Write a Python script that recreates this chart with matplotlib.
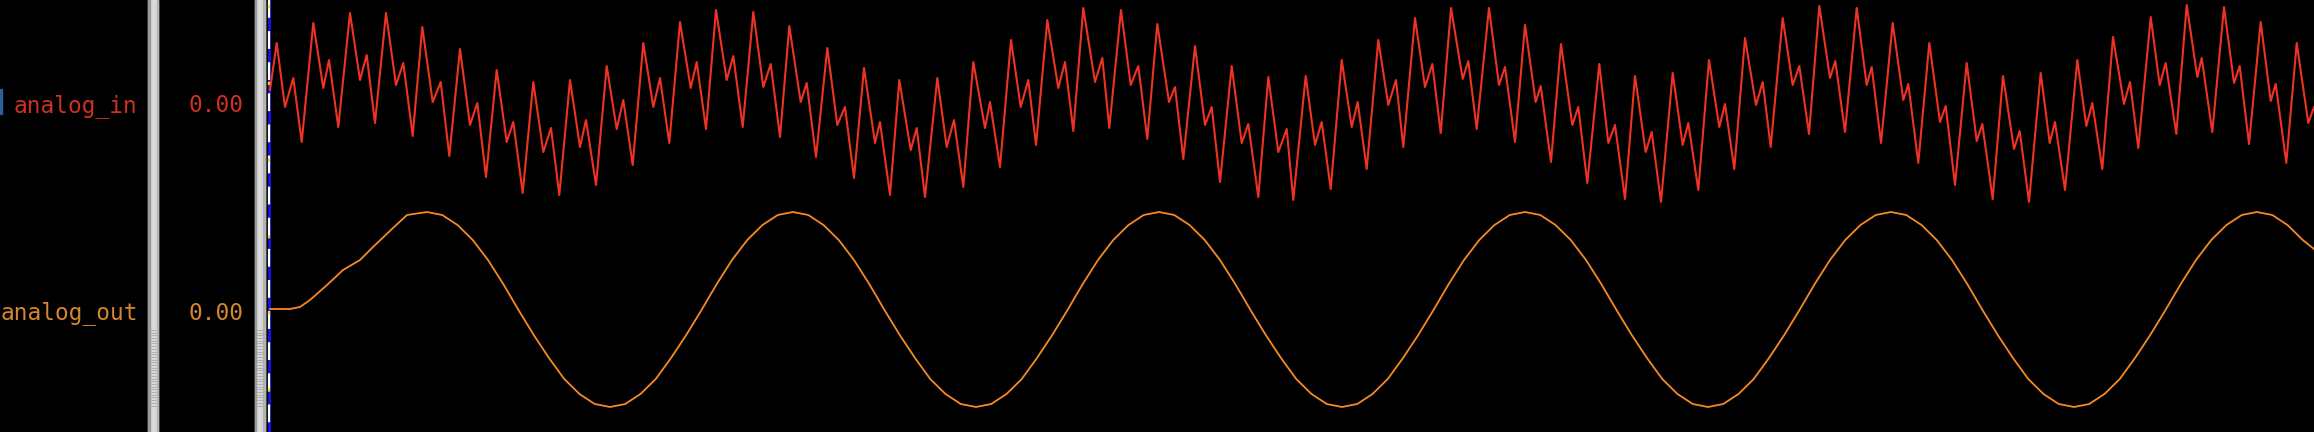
import numpy as np
import matplotlib.pyplot as plt
from matplotlib.patches import Rectangle

# analog_in: turning points (time in ns from the cursor, level in counts)
in_t = [0.0, 6.7, 15.0, 23.3, 31.7, 43.3, 53.3, 59.0, 68.3, 80.0, 90.0, 96.7,
        105.0, 116.0, 126.0, 133.3, 142.7, 152.3, 162.7, 170.7, 179.3, 190.0, 200.0, 207.3,
        216.0, 226.7, 236.7, 243.3, 252.7, 263.3, 273.3, 281.0, 289.3, 300.0, 310.0, 316.0,
        326.0, 336.7, 346.7, 353.3, 362.7, 373.3, 383.3, 390.0, 399.3, 410.0, 420.7, 426.7,
        436.0, 446.0, 456.7, 463.3, 472.7, 483.3, 493.3, 500.7, 510.0, 519.3, 530.7, 536.7,
        546.0, 557.3, 567.3, 575.0, 584.0, 594.0, 605.0, 610.0, 620.0, 629.3, 640.7, 646.7,
        655.0, 667.3, 676.7, 684.0, 693.3, 703.3, 715.0, 720.0, 730.0, 741.0, 750.7, 758.3,
        766.0, 777.3, 788.3, 795.0, 803.3, 813.3, 825.0, 832.3, 839.3, 851.0, 860.7, 868.3,
        877.3, 887.3, 899.0, 905.0, 913.3, 925.0, 935.0, 941.7, 950.0, 961.7, 971.7, 978.3,
        988.3, 998.3, 1008.3, 1016.7, 1023.3, 1035.7, 1045.0, 1051.7, 1060.7, 1071.7, 1081.7, 1087.7,
        1096.7, 1108.3, 1118.3, 1126.0, 1133.3, 1145.0, 1155.0, 1162.3, 1170.7, 1181.0, 1192.7, 1198.3,
        1206.7, 1219.0, 1229.0, 1235.0, 1245.0, 1255.0, 1265.7, 1270.7, 1281.0, 1291.0, 1302.3, 1308.3,
        1317.3, 1329.3, 1338.3, 1345.0, 1355.0, 1365.0, 1375.7, 1381.7, 1391.0, 1402.7, 1412.7, 1418.3,
        1428.3, 1439.0, 1449.3, 1455.0, 1464.3, 1475.0, 1486.0, 1492.7, 1500.7, 1512.7, 1522.7, 1529.3,
        1539.0, 1549.3, 1560.0, 1565.3, 1575.0, 1586.7, 1596.7, 1601.7, 1611.0, 1622.7, 1633.3, 1638.3,
        1648.3, 1659.3, 1670.0, 1675.7, 1685.0, 1696.7, 1706.7, 1712.3, 1722.7, 1733.0, 1744.0, 1749.7,
        1759.0, 1770.7, 1779.7, 1785.0, 1795.0, 1807.3, 1816.3, 1822.3, 1832.3, 1843.0, 1854.0, 1860.0,
        1868.3, 1880.7, 1889.7, 1895.7, 1906.3, 1916.7, 1927.3, 1931.7, 1942.3, 1954.0, 1964.0, 1969.7,
        1979.0, 1990.7, 2000.7, 2005.7, 2016.3, 2026.7, 2038.3, 2044.0]
in_v = [120, 167, 103, 132, 68, 187, 122, 150, 83, 197, 130, 155,
        87, 197, 125, 147, 74, 183, 108, 128, 54, 161, 85, 107,
        33, 140, 68, 88, 17, 128, 58, 82, 15, 130, 63, 90,
        25, 144, 81, 110, 45, 167, 103, 132, 67, 188, 122, 148,
        81, 200, 130, 154, 83, 198, 123, 146, 73, 184, 108, 127,
        53, 162, 85, 103, 32, 142, 67, 88, 15, 130, 60, 82,
        13, 132, 63, 90, 23, 148, 82, 108, 43, 170, 103, 130,
        65, 190, 122, 148, 79, 202, 128, 152, 82, 200, 125, 144,
        71, 186, 108, 123, 51, 164, 85, 103, 28, 144, 67, 86,
        13, 133, 58, 81, 10, 134, 65, 88, 21, 150, 83, 108,
        41, 170, 105, 130, 63, 192, 123, 146, 77, 202, 131, 149,
        81, 202, 125, 143, 68, 185, 108, 124, 48, 166, 85, 103,
        27, 146, 67, 85, 11, 134, 58, 78, 8, 137, 65, 87,
        20, 150, 83, 106, 41, 172, 105, 128, 63, 192, 125, 144,
        76, 204, 132, 149, 78, 202, 125, 143, 67, 187, 110, 126,
        47, 167, 88, 104, 25, 147, 69, 86, 11, 134, 61, 79,
        8, 137, 67, 88, 20, 150, 84, 107, 41, 173, 106, 128,
        62, 193, 125, 147, 76, 205, 133, 152, 78, 203, 127, 144,
        66, 188, 109, 126, 47, 167, 87, 103]

# analog_out: filter start-up, then samples every 15.25 ns
out_start_t = [0, 20, 30, 40, 57, 73, 90, 103, 123, 137]
out_start_v = [103, 103, 105, 112, 127, 142, 152, 165, 184, 197]
out_t0 = 157
out_dt = 15.25
out_v = [200, 197, 187, 172, 152, 128, 102, 77, 54, 33, 18, 8,
         5, 8, 18, 33, 54, 77, 102, 128, 152, 172, 187, 197,
         200, 197, 187, 172, 152, 128, 102, 77, 54, 33, 18, 8,
         5, 8, 18, 33, 54, 77, 102, 128, 152, 172, 187, 197,
         200, 197, 187, 172, 152, 128, 102, 77, 54, 33, 18, 8,
         5, 8, 18, 33, 54, 77, 102, 128, 152, 172, 187, 197,
         200, 197, 187, 172, 152, 128, 102, 77, 54, 33, 18, 8,
         5, 8, 18, 33, 54, 77, 102, 128, 152, 172, 187, 197,
         200, 197, 187, 172, 152, 128, 102, 77, 54, 33, 18, 8,
         5, 8, 18, 33, 54, 77, 102, 128, 152, 172, 187, 197,
         200, 197, 187, 172]
out_end_t = 2044
out_end_v = 163

signal_names = ['analog_in', 'analog_out']
signal_values = ['0.00', '0.00']

RED_LINE = '#ee3322'
RED_TEXT = '#cc3220'
ORANGE_LINE = '#f58a26'
ORANGE_TEXT = '#d5862e'

W, H = 2314, 432
fig = plt.figure(figsize=(W / 100, H / 100), dpi=100, facecolor='black')

# background / panels in pixel space
bg = fig.add_axes([0, 0, 1, 1])
bg.set_xlim(0, W)
bg.set_ylim(H, 0)
bg.axis('off')
bg.set_facecolor('black')
bg.add_patch(Rectangle((0, 0), W, H, color='black', zorder=0))


def separator(x0):
    bg.add_patch(Rectangle((x0, 0), 10, H, color='#d9d9d9', zorder=1))
    bg.add_patch(Rectangle((x0, 0), 1.5, H, color='#9a9a9a', zorder=2))
    bg.add_patch(Rectangle((x0 + 8.5, 0), 1.5, H, color='#b4b4b4', zorder=2))
    for y in np.arange(330, 408, 2.7):
        bg.plot([x0 + 2, x0 + 8], [y, y], color='#a8a8a8', lw=0.6, zorder=3)


separator(148)
separator(254.5)

rows_y = [112, 319.5]
name_colors = [RED_TEXT, ORANGE_TEXT]
for name, val, yb, c in zip(signal_names, signal_values, rows_y, name_colors):
    bg.text(137.5, yb, name, color=c, ha='right', va='baseline',
            family='DejaVu Sans Mono', fontsize=16.4, zorder=4)
    bg.text(243, yb, val, color=c, ha='right', va='baseline',
            family='DejaVu Sans Mono', fontsize=16.4, zorder=4)

# little highlight bar next to the first name
bg.add_patch(Rectangle((0, 89), 2, 25, color='#2f5f96', zorder=4))

# cursor
cx = 269.3
bg.plot([cx, cx], [0, H], color='#1515e6', lw=2.0, zorder=5)
bg.plot([cx, cx], [0, H], color='white', lw=1.6, zorder=6,
        dashes=(8, 6), solid_capstyle='butt')
bg.plot([cx, cx], [5, H], color='#f0e020', lw=1.6, zorder=7,
        dashes=(1.5, 33), solid_capstyle='butt')

# waveform rows
ax_in = fig.add_axes([270 / W, (H - 210) / H, 2044 / W, 210 / H])
ax_in.plot(in_t, in_v, color=RED_LINE, lw=1.5, clip_on=False)
ax_in.set_xlim(0, 2044)
ax_in.set_ylim(0, 210)
ax_in.axis('off')

out_t = out_start_t + list(out_t0 + out_dt * np.arange(len(out_v))) + [out_end_t]
out_all = out_start_v + out_v + [out_end_v]
ax_out = fig.add_axes([270 / W, (H - 412) / H, 2044 / W, 205 / H])
ax_out.plot(out_t, out_all, color=ORANGE_LINE, lw=1.3, clip_on=False)
ax_out.set_xlim(0, 2044)
ax_out.set_ylim(0, 205)
ax_out.axis('off')

fig.savefig('out.png', dpi=100, facecolor='black')
